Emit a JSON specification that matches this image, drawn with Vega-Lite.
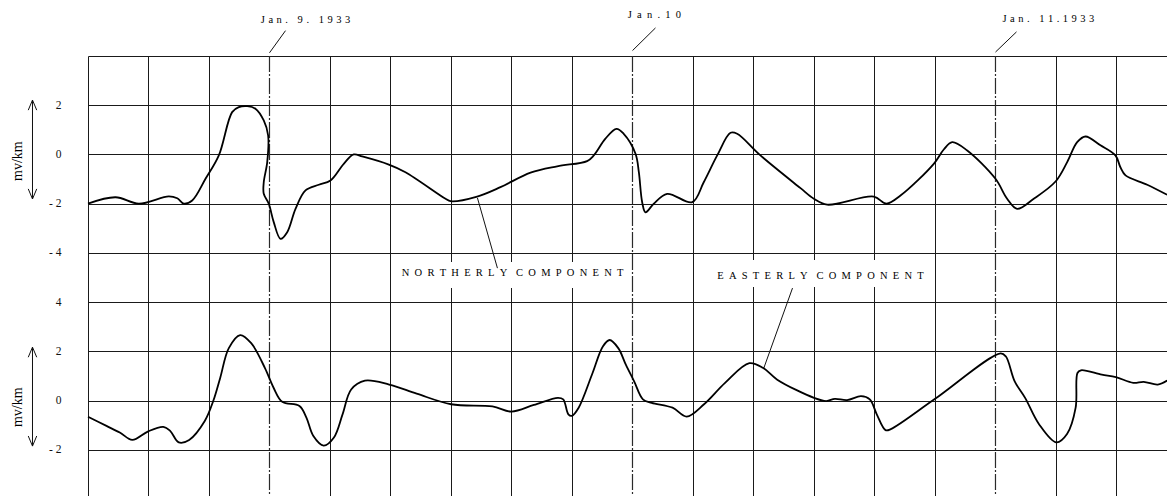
{
  "$schema": "https://vega.github.io/schema/vega-lite/v6.json",
  "width": 1079,
  "height": 443,
  "autosize": {"type": "none"},
  "padding": {"left": 88, "top": 56, "right": 0, "bottom": 0},
  "background": "white",
  "config": {"view": {"stroke": null}, "font": "Liberation Serif"},
  "datasets": {
    "north": [
      {"i":1,"h":-12,"v":-2.0},{"i":2,"h":-10.18,"v":-1.74},{"i":3,"h":-8.64,"v":-2.0},{"i":4,"h":-6.66,"v":-1.7},
      {"i":5,"h":-6.1,"v":-1.78},{"i":6,"h":-5.67,"v":-2.0},{"i":7,"h":-5.11,"v":-1.87},{"i":8,"h":-4.23,"v":-0.99},
      {"i":9,"h":-3.35,"v":-0.04},{"i":10,"h":-2.47,"v":1.72},{"i":11,"h":-2.03,"v":1.92},{"i":12,"h":-1.47,"v":1.96},
      {"i":13,"h":-0.93,"v":1.86},{"i":14,"h":-0.38,"v":1.38},{"i":15,"h":-0.09,"v":0.77},{"i":16,"h":-0.15,"v":-0.31},
      {"i":17,"h":-0.38,"v":-1.13},{"i":18,"h":-0.38,"v":-1.6},{"i":19,"h":-0.05,"v":-2.0},{"i":20,"h":0.28,"v":-2.75},
      {"i":21,"h":0.73,"v":-3.43},{"i":22,"h":1.17,"v":-3.16},{"i":23,"h":1.72,"v":-2.21},{"i":24,"h":2.38,"v":-1.46},
      {"i":25,"h":3.26,"v":-1.23},{"i":26,"h":4.03,"v":-1.06},{"i":27,"h":4.91,"v":-0.38},{"i":28,"h":5.57,"v":0.0},
      {"i":29,"h":6.13,"v":-0.08},{"i":30,"h":7.89,"v":-0.41},{"i":31,"h":8.99,"v":-0.72},{"i":32,"h":11.64,"v":-1.8},
      {"i":33,"h":11.97,"v":-1.9},{"i":34,"h":13.73,"v":-1.71},{"i":35,"h":15.27,"v":-1.33},{"i":36,"h":17.26,"v":-0.74},
      {"i":37,"h":19.02,"v":-0.48},{"i":38,"h":21.0,"v":-0.27},{"i":39,"h":21.44,"v":-0.04},{"i":40,"h":22.21,"v":0.64},
      {"i":41,"h":22.94,"v":1.04},{"i":42,"h":23.42,"v":0.84},{"i":43,"h":24.2,"v":0.03},{"i":44,"h":24.42,"v":-0.72},
      {"i":45,"h":24.64,"v":-1.94},{"i":46,"h":24.86,"v":-2.35},{"i":47,"h":25.41,"v":-2.0},{"i":48,"h":26.29,"v":-1.6},
      {"i":49,"h":27.95,"v":-1.94},{"i":50,"h":28.71,"v":-1.13},{"i":51,"h":29.6,"v":-0.04},{"i":52,"h":30.48,"v":0.88},
      {"i":53,"h":30.92,"v":0.84},{"i":54,"h":32.46,"v":-0.04},{"i":55,"h":35.11,"v":-1.37},{"i":56,"h":35.99,"v":-1.8},
      {"i":57,"h":36.87,"v":-2.04},{"i":58,"h":39.95,"v":-1.71},{"i":59,"h":40.79,"v":-2.0},{"i":60,"h":41.72,"v":-1.67},
      {"i":61,"h":43.92,"v":-0.38},{"i":62,"h":44.58,"v":0.2},{"i":63,"h":45.14,"v":0.5},{"i":64,"h":46.13,"v":0.16},
      {"i":65,"h":48.0,"v":-0.99},{"i":66,"h":48.77,"v":-1.8},{"i":67,"h":49.43,"v":-2.21},{"i":68,"h":50.53,"v":-1.8},
      {"i":69,"h":51.97,"v":-1.1},{"i":70,"h":52.74,"v":-0.31},{"i":71,"h":53.4,"v":0.5},{"i":72,"h":53.95,"v":0.73},
      {"i":73,"h":54.94,"v":0.37},{"i":74,"h":55.93,"v":-0.04},{"i":75,"h":56.26,"v":-0.52},{"i":76,"h":56.6,"v":-0.85},
      {"i":77,"h":58.03,"v":-1.23},{"i":78,"h":59.35,"v":-1.64}
    ],
    "east": [
      {"i":1,"h":-12,"v":-0.66},{"i":2,"h":-10.78,"v":-1.03},{"i":3,"h":-9.87,"v":-1.31},{"i":4,"h":-9.07,"v":-1.6},
      {"i":5,"h":-8.05,"v":-1.26},{"i":6,"h":-7.02,"v":-1.07},{"i":7,"h":-6.57,"v":-1.23},{"i":8,"h":-6.0,"v":-1.7},
      {"i":9,"h":-5.31,"v":-1.6},{"i":10,"h":-4.28,"v":-0.83},{"i":11,"h":-3.72,"v":-0.02},{"i":12,"h":-3.26,"v":0.92},
      {"i":13,"h":-2.69,"v":2.13},{"i":14,"h":-1.94,"v":2.66},{"i":15,"h":-1.21,"v":2.33},{"i":16,"h":-0.3,"v":1.32},
      {"i":17,"h":0.27,"v":0.52},{"i":18,"h":0.84,"v":-0.05},{"i":19,"h":1.98,"v":-0.22},{"i":20,"h":2.44,"v":-0.69},
      {"i":21,"h":2.89,"v":-1.43},{"i":22,"h":3.58,"v":-1.83},{"i":23,"h":4.26,"v":-1.5},{"i":24,"h":4.83,"v":-0.56},
      {"i":25,"h":5.4,"v":0.45},{"i":26,"h":6.31,"v":0.81},{"i":27,"h":7.91,"v":0.65},{"i":28,"h":9.73,"v":0.28},
      {"i":29,"h":12.01,"v":-0.15},{"i":30,"h":14.74,"v":-0.24},{"i":31,"h":16.0,"v":-0.45},{"i":32,"h":17.48,"v":-0.18},
      {"i":33,"h":19.07,"v":0.11},{"i":34,"h":19.42,"v":0.05},{"i":35,"h":19.76,"v":-0.56},{"i":36,"h":19.99,"v":-0.62},
      {"i":37,"h":20.44,"v":-0.29},{"i":38,"h":21.36,"v":1.12},{"i":39,"h":22.04,"v":2.2},{"i":40,"h":22.49,"v":2.46},
      {"i":41,"h":23.06,"v":2.13},{"i":42,"h":23.56,"v":1.46},{"i":43,"h":24.11,"v":0.78},{"i":44,"h":24.69,"v":0.05},
      {"i":45,"h":25.27,"v":-0.09},{"i":46,"h":26.65,"v":-0.29},{"i":47,"h":27.58,"v":-0.65},{"i":48,"h":28.73,"v":-0.15},
      {"i":49,"h":30.12,"v":0.72},{"i":50,"h":31.73,"v":1.52},{"i":51,"h":32.65,"v":1.32},{"i":52,"h":33.57,"v":0.85},
      {"i":53,"h":36.0,"v":0.11},{"i":54,"h":36.81,"v":-0.02},{"i":55,"h":37.38,"v":0.07},{"i":56,"h":38.19,"v":0.02},
      {"i":57,"h":39.11,"v":0.18},{"i":58,"h":39.69,"v":0.05},{"i":59,"h":40.15,"v":-0.56},{"i":60,"h":40.73,"v":-1.2},
      {"i":61,"h":41.08,"v":-1.16},{"i":62,"h":43.96,"v":0.05},{"i":63,"h":48.34,"v":1.92},{"i":64,"h":48.69,"v":1.79},
      {"i":65,"h":49.27,"v":0.78},{"i":66,"h":49.96,"v":0.11},{"i":67,"h":50.88,"v":-0.96},{"i":68,"h":52.03,"v":-1.7},
      {"i":69,"h":52.73,"v":-1.36},{"i":70,"h":53.3,"v":-0.29},{"i":71,"h":53.42,"v":1.12},{"i":72,"h":53.65,"v":1.23},
      {"i":73,"h":55.03,"v":1.05},{"i":74,"h":55.96,"v":0.95},{"i":75,"h":57.11,"v":0.72},{"i":76,"h":57.8,"v":0.76},
      {"i":77,"h":58.73,"v":0.65},{"i":78,"h":59.35,"v":0.81}
    ],
    "midnights": [{"h":0},{"h":24},{"h":48}],
    "boxes": [
      {"h":8.33,"h2":23.74,"v":-4.37,"v2":-5.43},
      {"h":28.5,"h2":43.83,"v":-4.29,"v2":-5.39}
    ],
    "segments": [
      {"h":0,"v":4.13,"h2":1.06,"v2":5.03},
      {"h":24,"v":4.22,"h2":25.52,"v2":5.14},
      {"h":48,"v":4.16,"h2":49.39,"v2":4.98},
      {"h":13.75,"v":-1.77,"h2":15.07,"v2":-4.62},
      {"h":34.58,"v":-5.43,"h2":32.66,"v2":-8.72},
      {"h":-15.67,"v":2.21,"h2":-15.67,"v2":-1.81},
      {"h":-15.67,"v":2.21,"h2":-15.95,"v2":1.8},
      {"h":-15.67,"v":2.21,"h2":-15.39,"v2":1.8},
      {"h":-15.67,"v":-1.81,"h2":-15.95,"v2":-1.4},
      {"h":-15.67,"v":-1.81,"h2":-15.39,"v2":-1.4},
      {"h":-15.67,"v":-7.83,"h2":-15.67,"v2":-11.85},
      {"h":-15.67,"v":-7.83,"h2":-15.95,"v2":-8.24},
      {"h":-15.67,"v":-7.83,"h2":-15.39,"v2":-8.24},
      {"h":-15.67,"v":-11.85,"h2":-15.95,"v2":-11.44},
      {"h":-15.67,"v":-11.85,"h2":-15.39,"v2":-11.44}
    ],
    "dates": [
      {"h":2.38,"v":5.46,"t":"J\u2004a\u2004n\u2004.\u2004 \u20049\u2004.\u2004 \u20041\u20049\u20043\u20043"},
      {"h":25.45,"v":5.67,"t":"J\u2002a\u2002n\u2002.\u20021\u20020"},
      {"h":51.5,"v":5.5,"t":"J\u2004a\u2004n\u2004.\u2004 \u20041\u20041\u2004.\u20041\u20049\u20043\u20043"}
    ],
    "labels": [
      {"h":16.07,"v":-4.82,"t":"N\u2002O\u2002R\u2002T\u2002H\u2002E\u2002R\u2002L\u2002Y\u2002\u2004C\u2002O\u2002M\u2002P\u2002O\u2002N\u2002E\u2002N\u2002T"},
      {"h":36.43,"v":-4.94,"t":"E\u2002A\u2002S\u2002T\u2002E\u2002R\u2002L\u2002Y\u2002\u2004C\u2002O\u2002M\u2002P\u2002O\u2002N\u2002E\u2002N\u2002T"}
    ],
    "units": [
      {"h":-16.66,"v":-0.27,"t":"mv/km"},
      {"h":-16.66,"v":-10.27,"t":"mv/km"}
    ]
  },
  "encoding": {
    "x": {
      "field": "h", "type": "quantitative",
      "scale": {"domain": [-12, 59.34], "nice": false, "zero": false},
      "axis": {"values": [-12,-8,-4,4,8,12,16,20,28,32,36,40,44,52,56], "grid": true, "gridColor": "#1a1a1a", "gridWidth": 1, "gridOpacity": 1, "labels": false, "ticks": false, "domain": false, "title": null}
    }
  },
  "layer": [
    {
      "data": {"name": "midnights"},
      "mark": {"type": "rule", "stroke": "#2a2a2a", "strokeWidth": 1.2, "strokeDash": [16, 2, 2, 2]},
      "encoding": {}
    },
    {
      "encoding": {
        "y": {"field": "v", "type": "quantitative", "scale": {"domain": [-14, 4], "nice": false, "zero": false}, "axis": null}
      },
      "layer": [
        {
          "data": {"name": "boxes"},
          "mark": {"type": "rect", "fill": "white", "stroke": null},
          "encoding": {"x2": {"field": "h2"}, "y2": {"field": "v2"}}
        },
        {
          "data": {"name": "segments"},
          "mark": {"type": "rule", "stroke": "#111111", "strokeWidth": 1},
          "encoding": {"x2": {"field": "h2"}, "y2": {"field": "v2"}}
        },
        {
          "data": {"name": "north"},
          "mark": {"type": "line", "interpolate": "catmull-rom", "stroke": "black", "strokeWidth": 1.8},
          "encoding": {"order": {"field": "i", "type": "quantitative"}}
        },
        {
          "data": {"name": "dates"},
          "mark": {"type": "text", "font": "Liberation Serif", "fontSize": 10.5, "fill": "black", "align": "center", "baseline": "middle"},
          "encoding": {"text": {"field": "t"}}
        },
        {
          "data": {"name": "labels"},
          "mark": {"type": "text", "font": "Liberation Serif", "fontSize": 10.5, "fill": "black", "align": "center", "baseline": "middle"},
          "encoding": {"text": {"field": "t"}}
        },
        {
          "data": {"name": "units"},
          "mark": {"type": "text", "font": "Liberation Serif", "fontSize": 14, "fill": "black", "align": "center", "baseline": "middle", "angle": 270},
          "encoding": {"text": {"field": "t"}}
        }
      ]
    },
    {
      "encoding": {
        "y": {
          "field": "v", "type": "quantitative",
          "scale": {"domain": [-4, 14], "nice": false, "zero": false},
          "axis": {
            "orient": "left",
            "values": [-4,-2,0,2,4,6,8,10,12,14],
            "grid": true, "gridColor": "#1a1a1a", "gridWidth": 1, "gridOpacity": 1,
            "ticks": false, "tickSize": 0, "domain": false, "title": null,
            "labelPadding": 27, "labelFont": "Liberation Serif", "labelFontSize": 11.5, "labelColor": "#111111",
            "labelExpr": "(datum.value == 14 || datum.value == -4) ? '' : (datum.value > 5 ? ((datum.value - 10) < 0 ? '- ' + (10 - datum.value) : '' + (datum.value - 10)) : (datum.value < 0 ? '- ' + (-datum.value) : '' + datum.value))"
          }
        }
      },
      "layer": [
        {
          "data": {"name": "east"},
          "mark": {"type": "line", "interpolate": "catmull-rom", "stroke": "black", "strokeWidth": 1.8},
          "encoding": {"order": {"field": "i", "type": "quantitative"}}
        }
      ]
    }
  ],
  "resolve": {"scale": {"y": "independent"}}
}
